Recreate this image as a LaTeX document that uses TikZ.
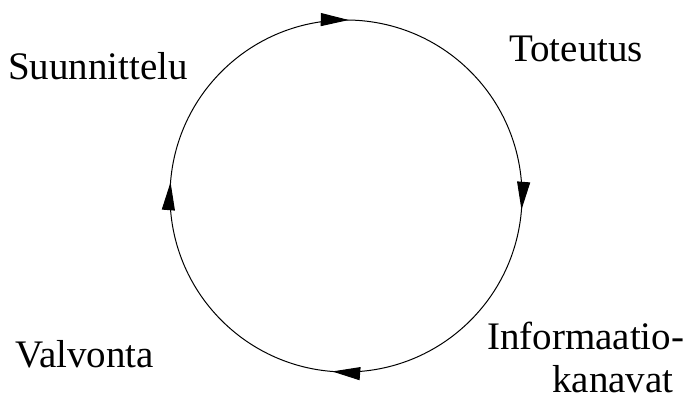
\documentclass[tikz,border=0pt]{standalone}
\usepackage{fontspec}
\setmainfont{Liberation Serif}
\usetikzlibrary{arrows.meta,decorations.markings,calc}

\begin{document}
\begin{tikzpicture}[x=1pt,y=1pt,line cap=round,
  lbl/.style={font=\fontsize{39}{46}\selectfont,inner sep=0pt,anchor=base west},
  flow/.style={line width=1pt,postaction={decorate},
    decoration={markings,mark=at position #1 with {\arrow{Triangle[length=28pt,width=13pt]}}}},
  flow/.default=0.55]
\useasboundingbox (0,0) rectangle (696,401);
% the cycle
\coordinate (c) at (346,205);
\coordinate (nw) at ($(c)+(135:176)$);
\coordinate (ne) at ($(c)+(45:176)$);
\coordinate (se) at ($(c)+(-45:176)$);
\coordinate (sw) at ($(c)+(-135:176)$);
\draw[flow=0.51] (nw) arc[start angle=135,end angle=45,radius=176];
\draw[flow] (ne) arc[start angle=45,end angle=-45,radius=176];
\draw[flow] (se) arc[start angle=-45,end angle=-135,radius=176];
\draw[flow] (sw) arc[start angle=-135,end angle=-225,radius=176];
% labels
\node[lbl] (plan) at (8,321) {Suunnittelu};
\node[lbl] (toteutus) at (509,339) {Toteutus};
\node[lbl] (info) at (487,51) {Informaatio-};
\node[lbl] (kanavat) at (552,8) {kanavat};
\node[lbl] (valvonta) at (15,33) {Valvonta};
\end{tikzpicture}
\end{document}
